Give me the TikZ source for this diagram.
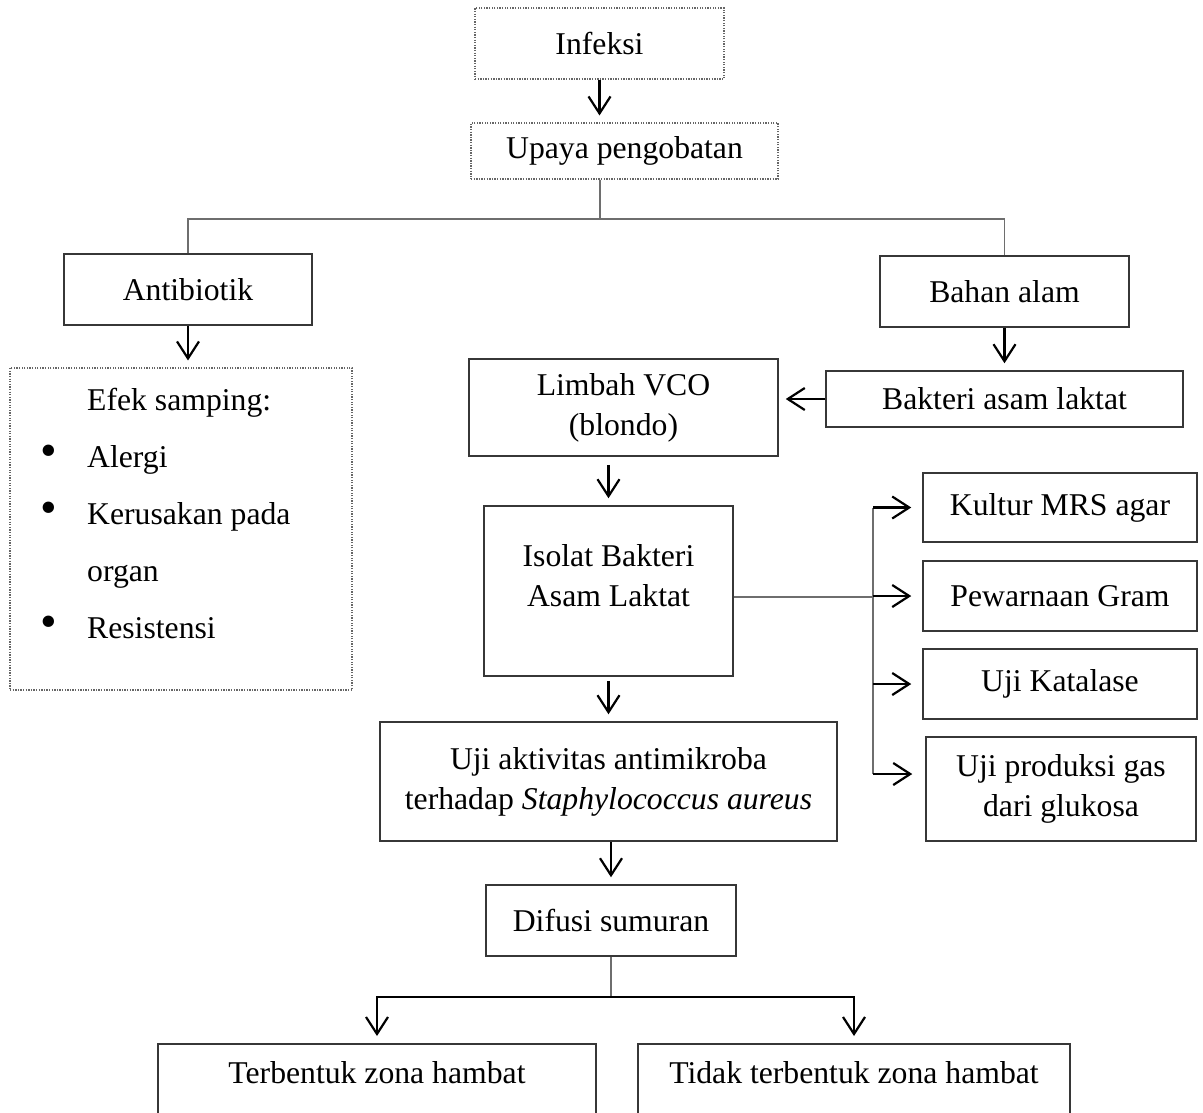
\documentclass[tikz,border=0pt]{standalone}
\usepackage{fontspec}
\usepackage{tikz}
\usetikzlibrary{arrows.meta}
\setmainfont{Liberation Serif}
\definecolor{lg}{RGB}{110,110,110}
\definecolor{bg}{RGB}{55,55,55}
\newcommand{\bul}{\makebox[47pt][l]{\raisebox{1pt}{\scalebox{1.5}{\textbullet}}}}

\begin{document}
\begin{tikzpicture}[x = 1pt, y = -1pt, font = \fontsize{31.7}{40}\selectfont,
  box/.style = {draw = bg, line width = 1.5pt, inner sep = 0pt},
  dotbox/.style = {box, draw = gray!80!black, line width = 1.1pt, dash pattern = on 1.3pt off 1.3pt},
  conn/.style = {draw = lg, line width = 1.3pt},
  arr/.style = {line width = 2.2pt, -{Straight Barb[length = 17pt, width = 22pt]}, shorten > = 7pt}]
\useasboundingbox (0,0) rectangle (1203,1112);
\node[dotbox, minimum width = 249pt, minimum height = 71pt] (infeksi) at (599.5,43.5) {Infeksi};
\node[dotbox, minimum width = 307pt, minimum height = 56pt] (upaya) at (624.5,151) {Upaya pengobatan};
\node[box, minimum width = 248pt, minimum height = 71pt] (anti) at (188,289.5) {Antibiotik};
\node[box, minimum width = 249pt, minimum height = 71pt] (bahan) at (1004.5,291.5) {Bahan alam};
\node[dotbox, minimum width = 342pt, minimum height = 322pt] (efek) at (181,529) {};
\node[anchor = north west, inner sep = 0pt, align = left, font = \fontsize{31.7}{57}\selectfont] (efektxt) at (40,388)
  {\hspace*{47pt}Efek samping:\\ \bul Alergi\\ \bul Kerusakan pada\\ \hspace*{47pt}organ\\ \bul Resistensi};
\node[box, minimum width = 357pt, minimum height = 56pt] (bakteri) at (1004.5,399) {Bakteri asam laktat};
\node[box, minimum width = 309pt, minimum height = 97pt, align = center] (limbah) at (623.5,407.5) {Limbah VCO\\(blondo)};
\node[box, minimum width = 249pt, minimum height = 170pt] (isolat) at (608.5,591) {};
\node[align = center, inner sep = 0pt] (isolattxt) at (608.5,576) {Isolat Bakteri\\Asam Laktat};
\node[box, minimum width = 274pt, minimum height = 69pt] (kultur) at (1060,507.5) {Kultur MRS agar};
\node[box, minimum width = 274pt, minimum height = 70pt] (gram) at (1060,596) {Pewarnaan Gram};
\node[box, minimum width = 274pt, minimum height = 70pt] (katalase) at (1060,684) {Uji Katalase};
\node[box, minimum width = 270pt, minimum height = 104pt, align = center] (gas) at (1061,789) {Uji produksi gas\\dari glukosa};
\node[box, minimum width = 457pt, minimum height = 119pt, align = center] (uji) at (608.5,781.5)
  {Uji aktivitas antimikroba\\terhadap \textit{Staphylococcus aureus}};
\node[box, minimum width = 250pt, minimum height = 71pt] (difusi) at (611,920.5) {Difusi sumuran};
\node[box, anchor = north, minimum width = 438pt, inner ysep = 10pt, text height = 30pt, text depth = 80pt] (terb) at (377,1043) {Terbentuk zona hambat};
\node[box, anchor = north, minimum width = 432pt, inner ysep = 10pt, text height = 30pt, text depth = 80pt] (tidak) at (854,1043) {Tidak terbentuk zona hambat};

\coordinate (split1) at (600,219);
\coordinate (split2) at (611,997);
\coordinate (branch) at (873,597);
\coordinate (gasin) at (873,774);

\draw[arr] (infeksi.south) -- (infeksi.south |- upaya.north);
\draw[conn] (split1 |- upaya.south) -- (split1);
\draw[conn] (anti.north) |- (split1) -| (bahan.north);
\draw[arr] (anti.south) -- (anti.south |- efek.north);
\draw[arr] (bahan.south) -- (bahan.south |- bakteri.north);
\draw[arr] (bakteri.west) -- (bakteri.west -| limbah.east);
\draw[arr, shorten < = 8pt] (isolat.north |- limbah.south) -- (isolat.north);
\draw[conn] (isolat.east |- branch) -- (branch);
\draw[conn] (branch |- kultur.west) -- (gasin);
\draw[arr, shorten > = 11pt] (branch |- kultur.west) -- (kultur.west);
\draw[arr, shorten > = 11pt] (branch |- gram.west) -- (gram.west);
\draw[arr, shorten > = 11pt] (branch |- katalase.west) -- (katalase.west);
\draw[arr, shorten > = 13pt] (gasin) -- (gasin -| gas.west);
\draw[arr, shorten < = 4pt] (isolat.south) -- (uji.north);
\draw[arr] (difusi.north |- uji.south) -- (difusi.north);
\draw[conn] (difusi.south) -- (split2);
\draw[arr] (split2) -| (terb.north);
\draw[arr] (split2) -| (tidak.north);
\end{tikzpicture}
\end{document}
